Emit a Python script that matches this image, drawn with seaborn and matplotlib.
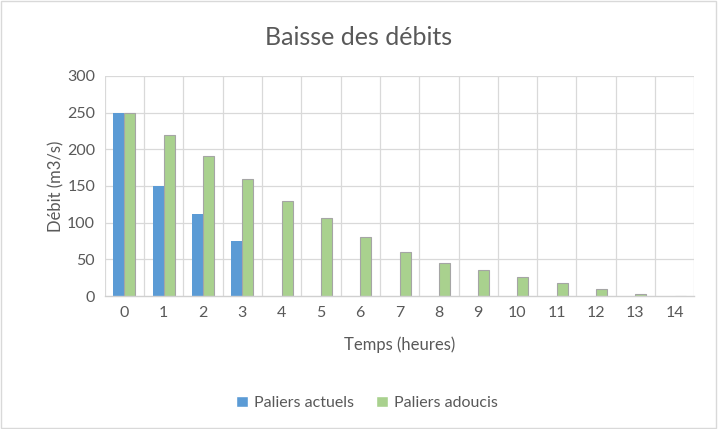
import matplotlib
matplotlib.use("Agg")
import matplotlib.pyplot as plt
import seaborn as sns
import pandas as pd
import numpy as np

hours = list(range(15))
actuels = [250, 150, 112, 75] + [np.nan] * 11
adoucis = [250, 220, 191, 160, 130, 106, 80, 60, 45, 35, 26, 18, 10, 3, 0]
series_names = ["Paliers actuels", "Paliers adoucis"]
yticks = [0, 50, 100, 150, 200, 250, 300]

df = pd.DataFrame({
    "Temps": hours * 2,
    "Débit": actuels + adoucis,
    "Série": [series_names[0]] * 15 + [series_names[1]] * 15,
})

sns.set_theme(style="white")
plt.rcParams["font.family"] = ["Lato", "DejaVu Sans"]
txt = "#595959"

fig = plt.figure(figsize=(7.18, 4.29), dpi=100)
ax = fig.add_axes([0.146, 0.310, 0.821, 0.513])

sns.barplot(data=df, x="Temps", y="Débit", hue="Série", hue_order=series_names,
            palette=["#5B9BD5", "#A9D18E"], saturation=1, width=0.56, ax=ax, legend=True)

for bar_container, ec in zip(ax.containers, ["#5B9BD5", "#A5A5A5"]):
    for p in bar_container.patches:
        p.set_edgecolor(ec)
        p.set_linewidth(0.8 if ec == "#A5A5A5" else 0)

ax.set_xlim(-0.5, 14.5)
ax.set_ylim(0, 300)
ax.set_yticks(yticks)
ax.set_yticklabels([str(v) for v in yticks])
for v in yticks[1:]:
    ax.axhline(v, color="#D9D9D9", lw=0.9, zorder=0)
for xb in np.arange(-0.5, 15, 1.0):
    ax.axvline(xb, color="#D9D9D9", lw=0.9, zorder=0)
ax.set_axisbelow(True)

for s in ["top", "right", "left"]:
    ax.spines[s].set_visible(False)
ax.spines["bottom"].set_color("#D0D0D0")
ax.spines["bottom"].set_linewidth(1.0)

ax.tick_params(axis="both", length=0, colors=txt, labelsize=11.5, pad=7)
ax.set_xlabel("Temps (heures)", color=txt, fontsize=12, labelpad=12)
ax.set_ylabel("Débit (m3/s)", color=txt, fontsize=12, labelpad=2)

fig.suptitle("Baisse des débits", y=0.94, color=txt, fontsize=18)

leg = ax.legend(loc="upper center", bbox_to_anchor=(0.445, -0.39), ncol=2, frameon=False,
                fontsize=11.5, handlelength=0.7, handleheight=0.7, columnspacing=1.4,
                handletextpad=0.4)
for t in leg.get_texts():
    t.set_color(txt)

fig.patches.append(plt.Rectangle((0.002, 0.003), 0.995, 0.994, transform=fig.transFigure,
                                 fill=False, edgecolor="#D9D9D9", lw=1.0))

fig.savefig("out.png", dpi=100, facecolor="white")
